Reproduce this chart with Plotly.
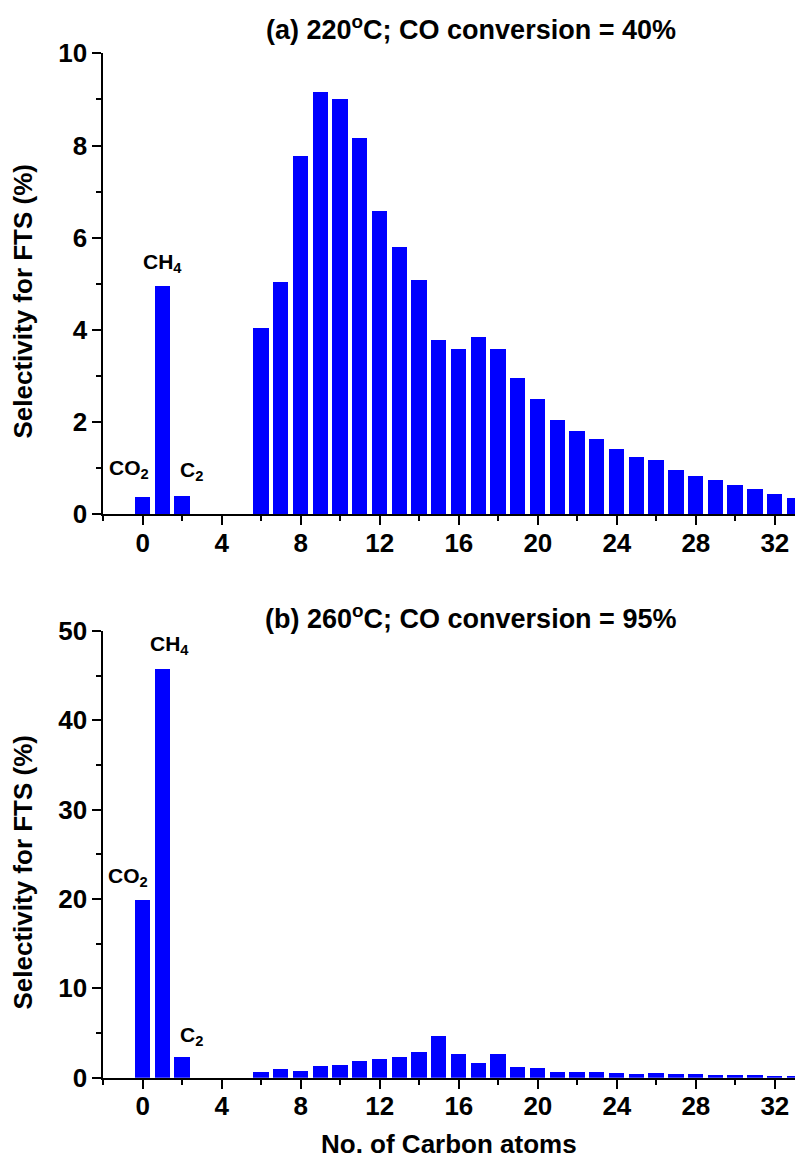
import plotly.graph_objects as go

# Carbon number of each product (0 = CO2, 1 = CH4, 2 = C2, ...)
carbon_number = [0, 1, 2, 6, 7, 8, 9, 10, 11, 12, 13, 14, 15, 16, 17, 18, 19,
                 20, 21, 22, 23, 24, 25, 26, 27, 28, 29, 30, 31, 32, 33]

# (a) 220 oC, CO conversion 40 %
selectivity_220 = [0.36, 4.94, 0.39, 4.03, 5.03, 7.77, 9.16, 9.01, 8.15, 6.58, 5.80,
                   5.07, 3.77, 3.57, 3.84, 3.57, 2.94, 2.49, 2.03, 1.79, 1.62, 1.40,
                   1.24, 1.18, 0.95, 0.83, 0.73, 0.62, 0.54, 0.43, 0.34]

# (b) 260 oC, CO conversion 95 %
selectivity_260 = [19.9, 45.7, 2.33, 0.67, 0.94, 0.75, 1.30, 1.44, 1.87, 2.10, 2.34,
                   2.84, 4.68, 2.65, 1.68, 2.65, 1.20, 1.06, 0.68, 0.68, 0.60, 0.50,
                   0.42, 0.50, 0.38, 0.42, 0.30, 0.28, 0.28, 0.16, 0.10]

x_ticks = [0, 4, 8, 12, 16, 20, 24, 28, 32]
y_ticks_a = [0, 2, 4, 6, 8, 10]
y_ticks_b = [0, 10, 20, 30, 40, 50]

titles = ["(a) 220<sup>o</sup>C; CO conversion = 40%",
          "(b) 260<sup>o</sup>C; CO conversion = 95%"]
x_title = "No. of Carbon atoms"
y_title = "Selectivity for FTS (%)"

FONT = "Liberation Sans, Arial, sans-serif"
BLUE = "#0000FF"
W, H = 795, 1161

fig = go.Figure()
fig.add_trace(go.Bar(x=carbon_number, y=selectivity_220, width=0.78,
                     marker=dict(color=BLUE, line=dict(width=0)),
                     xaxis="x", yaxis="y", showlegend=False))
fig.add_trace(go.Bar(x=carbon_number, y=selectivity_260, width=0.78,
                     marker=dict(color=BLUE, line=dict(width=0)),
                     xaxis="x2", yaxis="y2", showlegend=False))

x_dom = [103.3 / W, 1.0]
top_dom = [(H - 514.3) / H, (H - 53.3) / H]
bot_dom = [(H - 1077.7) / H, (H - 631.0) / H]

tick_font = dict(family=FONT, size=26, color="black", weight="bold")


def xaxis(anchor):
    return dict(domain=x_dom, anchor=anchor, range=[-2, 33.02], automargin=False,
                tickmode="array", tickvals=x_ticks, ticks="outside",
                ticklen=9, tickwidth=2, tickcolor="black", ticklabelstandoff=-5,
                showline=True, linecolor="black", linewidth=2,
                showgrid=False, zeroline=False,
                minor=dict(dtick=2, tick0=0, ticks="outside", ticklen=5,
                           tickwidth=2, tickcolor="black", showgrid=False),
                tickfont=tick_font)


def yaxis(anchor, dom, rng, vals, minor_step):
    return dict(domain=dom, anchor=anchor, range=rng, automargin=False,
                tickmode="array", tickvals=vals, ticks="outside",
                ticklen=9, tickwidth=2, tickcolor="black",
                showline=True, linecolor="black", linewidth=2,
                showgrid=False, zeroline=False,
                minor=dict(dtick=minor_step, tick0=0, ticks="outside", ticklen=5,
                           tickwidth=2, tickcolor="black", showgrid=False),
                tickfont=tick_font)


fig.update_layout(
    width=W, height=H,
    margin=dict(l=0, r=0, t=0, b=0, autoexpand=False),
    paper_bgcolor="white", plot_bgcolor="white",
    bargap=0,
    xaxis=xaxis("y"),
    yaxis=yaxis("x", top_dom, [0, 10], y_ticks_a, 1),
    xaxis2=xaxis("y2"),
    yaxis2=yaxis("x2", bot_dom, [0, 50], y_ticks_b, 5),
)

ann = []
title_font = dict(family=FONT, size=27, color="black", weight="bold")
ann.append(dict(text=titles[0], x=470.5 / W, y=(H - 27.5) / H, xref="paper", yref="paper",
                showarrow=False, font=title_font, xanchor="center", yanchor="middle"))
ann.append(dict(text=titles[1], x=470.5 / W, y=(H - 616.5) / H, xref="paper", yref="paper",
                showarrow=False, font=title_font, xanchor="center", yanchor="middle"))
ann.append(dict(text=x_title, x=448.5 / W, y=(H - 1143.5) / H, xref="paper", yref="paper",
                showarrow=False, font=dict(family=FONT, size=26, color="black", weight="bold"),
                xanchor="center", yanchor="middle", borderpad=0))
for yc in (301.0, 872.0):
    ann.append(dict(text=y_title, x=22.5 / W, y=(H - yc) / H, xref="paper", yref="paper",
                    textangle=-90, showarrow=False,
                    font=dict(family=FONT, size=26, color="black", weight="bold"),
                    xanchor="center", yanchor="middle"))

label_font = dict(family=FONT, size=21, color="black", weight="bold")
labels_a = [("CO<sub>2</sub>", -0.72, 0.98), ("CH<sub>4</sub>", 0.99, 5.45), ("C<sub>2</sub>", 2.48, 0.94)]
labels_b = [("CO<sub>2</sub>", -0.73, 22.5), ("CH<sub>4</sub>", 1.37, 48.4), ("C<sub>2</sub>", 2.48, 4.7)]
for txt, xv, yv in labels_a:
    ann.append(dict(text=txt, x=xv, y=yv, xref="x", yref="y", showarrow=False,
                    font=label_font, xanchor="center", yanchor="middle"))
for txt, xv, yv in labels_b:
    ann.append(dict(text=txt, x=xv, y=yv, xref="x2", yref="y2", showarrow=False,
                    font=label_font, xanchor="center", yanchor="middle"))

fig.update_layout(annotations=ann)
fig.write_html("out.html")
